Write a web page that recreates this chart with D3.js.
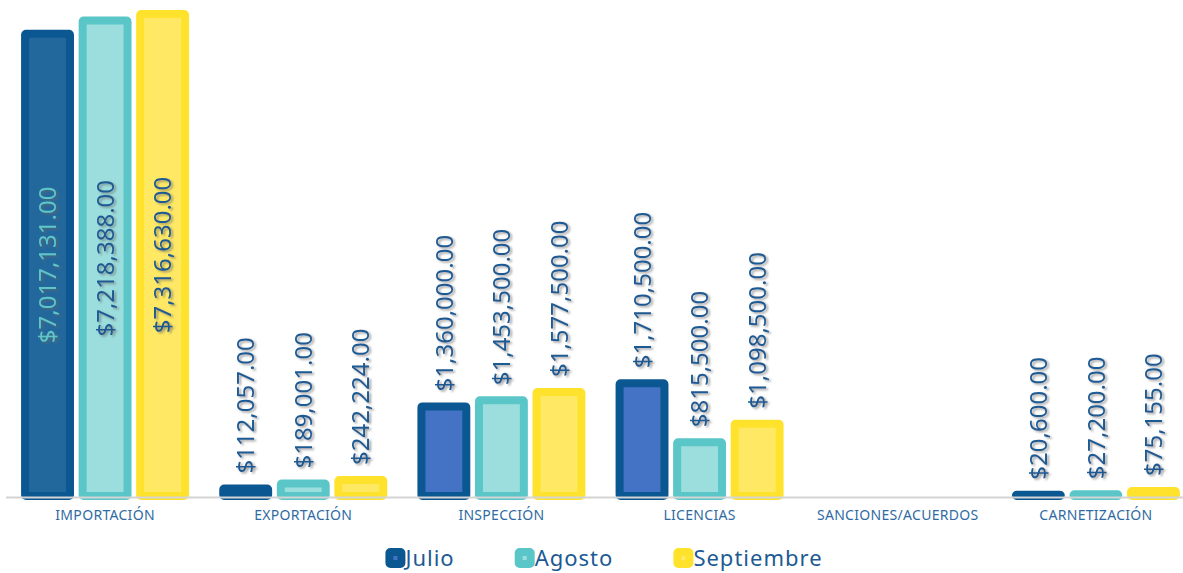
<!DOCTYPE html>
<html>
<head>
<meta charset="utf-8">
<script src="https://cdn.jsdelivr.net/npm/d3@7"></script>
<style>
  html, body { margin: 0; padding: 0; background: #fff; }
  svg { display: block; font-family: 'Noto Sans', sans-serif; }
</style>
</head>
<body>
<svg id="chart"></svg>
<script>
'use strict';

var categories = ['IMPORTACIÓN', 'EXPORTACIÓN', 'INSPECCIÓN', 'LICENCIAS', 'SANCIONES/ACUERDOS', 'CARNETIZACIÓN'];
var seriesNames = ['Julio', 'Agosto', 'Septiembre'];
var julio = [7017131, 112057, 1360000, 1710500, null, 20600];
var agosto = [7218388, 189001, 1453500, 815500, null, 27200];
var septiembre = [7316630, 242224, 1577500, 1098500, null, 75155];

var seriesValues = [julio, agosto, septiembre];
var strokeColors = ['#0b5791', '#5bc6c8', '#ffe22c'];
var fillColors = ['#4472c4', '#9cdedd', '#ffe964'];
// julio bars change their inner fill per category in the original
var julioFill = ['#23689c', '#0b5791', '#4472c4', '#4472c4', '#4472c4', '#0b5791'];
var textColor = '#1c5a94';

var width = 1183, height = 573;
var baseY = 496;
var sw = 8;

var svg = d3.select('#chart').attr('width', width).attr('height', height);

var defs = svg.append('defs');
defs.append('filter')
  .attr('id', 'shadow')
  .attr('x', '-20%').attr('y', '-20%').attr('width', '140%').attr('height', '140%')
  .append('feDropShadow')
  .attr('dx', 2).attr('dy', 1.5)
  .attr('stdDeviation', 1.1)
  .attr('flood-color', '#666')
  .attr('flood-opacity', 0.65);

var x0 = d3.scaleBand().domain(categories).range([6, 1195]);
var x1 = d3.scaleBand().domain(seriesNames)
  .range([x0.bandwidth() / 2 - 80, x0.bandwidth() / 2 + 80])
  .paddingInner(0.22);
var y = d3.scaleLinear()
  .domain([0, d3.max(septiembre)])
  .range([baseY, 14]);

var data = [];
categories.forEach(function (c, ci) {
  seriesValues.forEach(function (vals, si) {
    if (vals[ci] == null) return;
    data.push({ cat: c, ci: ci, series: seriesNames[si], si: si, value: vals[ci] });
  });
});

var bars = svg.append('g').attr('class', 'bars');
bars.selectAll('rect').data(data).enter()
  .append('rect')
  .attr('x', function (d) { return x0(d.cat) + x1(d.series); })
  .attr('y', function (d) { return y(d.value); })
  .attr('width', x1.bandwidth())
  .attr('height', function (d) { return Math.max(0.5, baseY - y(d.value)); })
  .attr('rx', 1).attr('ry', 1)
  .attr('fill', function (d) { return d.si === 0 ? julioFill[d.ci] : fillColors[d.si]; })
  .attr('stroke', function (d) { return strokeColors[d.si]; })
  .attr('stroke-width', sw)
  .attr('stroke-linejoin', 'round');

// baseline
svg.append('line')
  .attr('x1', 6).attr('x2', 1195)
  .attr('y1', baseY + 1.5).attr('y2', baseY + 1.5)
  .attr('stroke', '#d4d4d4')
  .attr('stroke-width', 2);

// value labels
var fmt = d3.format('$,.2f');
var labels = svg.append('g').attr('class', 'labels');
labels.selectAll('g').data(data).enter()
  .append('g')
  .attr('filter', 'url(#shadow)')
  .append('text')
  .attr('transform', function (d) {
    var cx = x0(d.cat) + x1(d.series) + x1.bandwidth() / 2;
    var h = baseY - y(d.value);
    var ty = h > 300 ? (y(d.value) + baseY) / 2 : y(d.value) - sw / 2 - 11;
    return 'translate(' + cx + ',' + ty + ') rotate(-90)';
  })
  .attr('dy', '0.36em')
  .attr('text-anchor', function (d) { return (baseY - y(d.value)) > 300 ? 'middle' : 'start'; })
  .attr('font-size', 24)
  .attr('fill', function (d) {
    return ((baseY - y(d.value)) > 300 && d.si === 0) ? '#5bc6c8' : textColor;
  })
  .text(function (d) { return fmt(d.value); });

// category axis labels
svg.append('g').selectAll('text').data(categories).enter()
  .append('text')
  .attr('x', function (d) { return x0(d) + x0.bandwidth() / 2; })
  .attr('y', 520)
  .attr('text-anchor', 'middle')
  .attr('font-size', 14)
  .attr('letter-spacing', 0.3)
  .attr('fill', '#2f6ba2')
  .text(function (d) { return d; });

// legend
var legend = svg.append('g').attr('class', 'legend');
var items = legend.selectAll('g').data(seriesNames).enter().append('g');
items.append('rect')
  .attr('x', 4).attr('y', -14)
  .attr('width', 12).attr('height', 12)
  .attr('rx', 1)
  .attr('fill', function (d, i) { return i === 0 ? '#4472c4' : fillColors[i]; })
  .attr('stroke', function (d, i) { return strokeColors[i]; })
  .attr('stroke-width', sw);
items.append('text')
  .attr('x', 20).attr('y', 0)
  .attr('font-size', 22)
  .attr('letter-spacing', 1)
  .attr('fill', textColor)
  .text(function (d) { return d; });

var pos = 0, offsets = [];
items.each(function () {
  offsets.push(pos);
  pos += 20 + d3.select(this).select('text').node().getComputedTextLength() + 60;
});
var total = pos - 60;
var startX = 604 - total / 2;
items.attr('transform', function (d, i) { return 'translate(' + (startX + offsets[i]) + ',566)'; });
</script>
</body>
</html>
